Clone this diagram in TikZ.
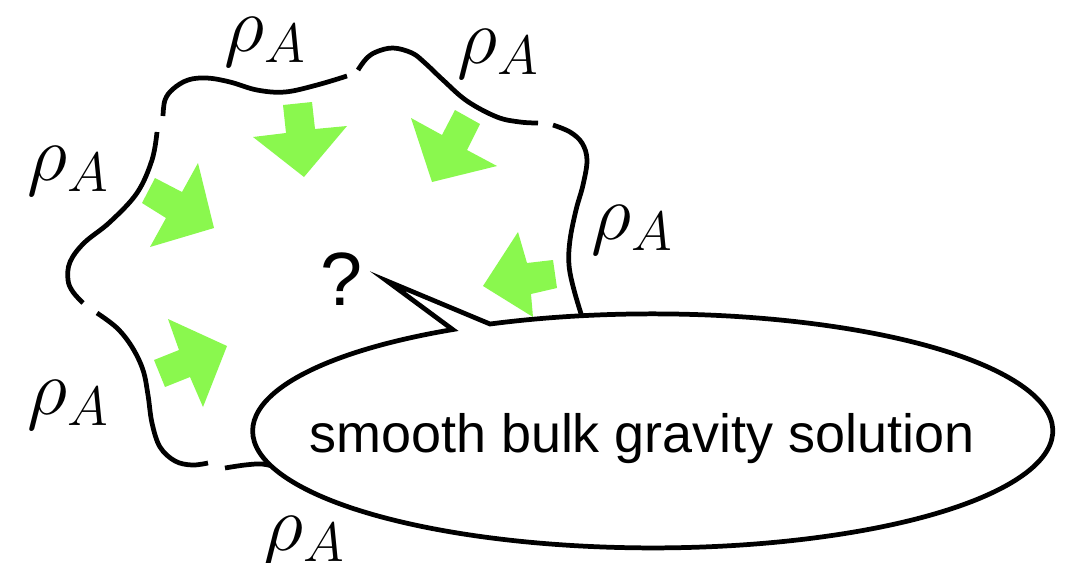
\RequirePackage{fix-cm}
\documentclass[tikz,border=0pt]{standalone}
\usepackage{fontspec}
\newfontfamily\sansf{Liberation Sans}
\definecolor{arrowgreen}{RGB}{138,248,78}
\tikzset{
  bnd/.style={line width=2.7pt},
  garrow/.style={fill=arrowgreen},
  bubble/.style={draw=black, fill=white, line width=2.7pt},
  lab/.style={anchor=base, inner sep=0pt, font=\fontsize{45}{50}\selectfont},
  sanslab/.style={anchor=base, inner sep=0pt}
}
\begin{document}
\begin{tikzpicture}[x=0.02cm, y=-0.02cm]
\useasboundingbox (0,0) rectangle (1065,562);
% boundary pieces
\draw[bnd] plot[smooth, tension=0.6] coordinates {(163,116) (165,100) (173,89) (188,80) (207,78) (230,82) (257,90) (285,92) (317,85) (347,76)};
\draw[bnd] plot[smooth, tension=0.6] coordinates {(358,70) (366,59) (376,52) (393,48) (412,53) (425,63) (443,80) (467,101) (497,117) (520,122) (538,123)};
\draw[bnd] plot[smooth, tension=0.6] coordinates {(553,125) (570,132) (582,143) (587,160) (583,185) (576,210) (570,240) (569,265) (574,290) (583,320)};
\draw[bnd] plot[smooth, tension=0.6] coordinates {(157,132) (152,160) (137,193) (110,222) (84,243) (70,262) (68,280) (73,292) (83,303)};
\draw[bnd] plot[smooth, tension=0.6] coordinates {(97,313) (117,328) (132,347) (143,370) (148,395) (152,423) (160,447) (175,461) (192,465) (208,463)};
\draw[bnd] plot[smooth, tension=0.6] coordinates {(225,468) (245,465) (262,464) (276,467)};
% green arrows
\fill[garrow] (283,105) -- (312,102) -- (315,129) -- (347,126) -- (304,177) -- (253,137) -- (286,133) -- cycle;
\fill[garrow] (455,110) -- (480,124) -- (467,150) -- (497,166) -- (432,182) -- (411,118) -- (442,135) -- cycle;
\fill[garrow] (155,178) -- (182,192) -- (198,163) -- (214,228) -- (150,247) -- (166,218) -- (142,203) -- cycle;
\fill[garrow] (154,360) -- (179,350) -- (168,319) -- (227,346) -- (203,407) -- (190,377) -- (165,387) -- cycle;
\fill[garrow] (553,260) -- (557,288) -- (531,294) -- (533,317) -- (483,286) -- (518,232) -- (527,263) -- cycle;
% speech bubble
\coordinate (tip) at (387,281);
\filldraw[bubble] (490,324) arc[start angle=246, end angle=600, x radius=400, y radius=117] -- (tip) -- cycle;
\node[sanslab, font=\sansf\fontsize{30.7}{36}\selectfont] (sol) at (642,452) {smooth bulk gravity solution};
\node[sanslab, font=\sansf\fontsize{43}{50}\selectfont] (q) at (342,305) {?};
% labels
\node[lab] (r1) at (265,51) {$\rho_A$};
\node[lab] (r2) at (498,63) {$\rho_A$};
\node[lab] (r3) at (68,180) {$\rho_A$};
\node[lab] (r4) at (632,239) {$\rho_A$};
\node[lab] (r5) at (68,414) {$\rho_A$};
\node[lab] (r6) at (304,550) {$\rho_A$};
\end{tikzpicture}
\end{document}
